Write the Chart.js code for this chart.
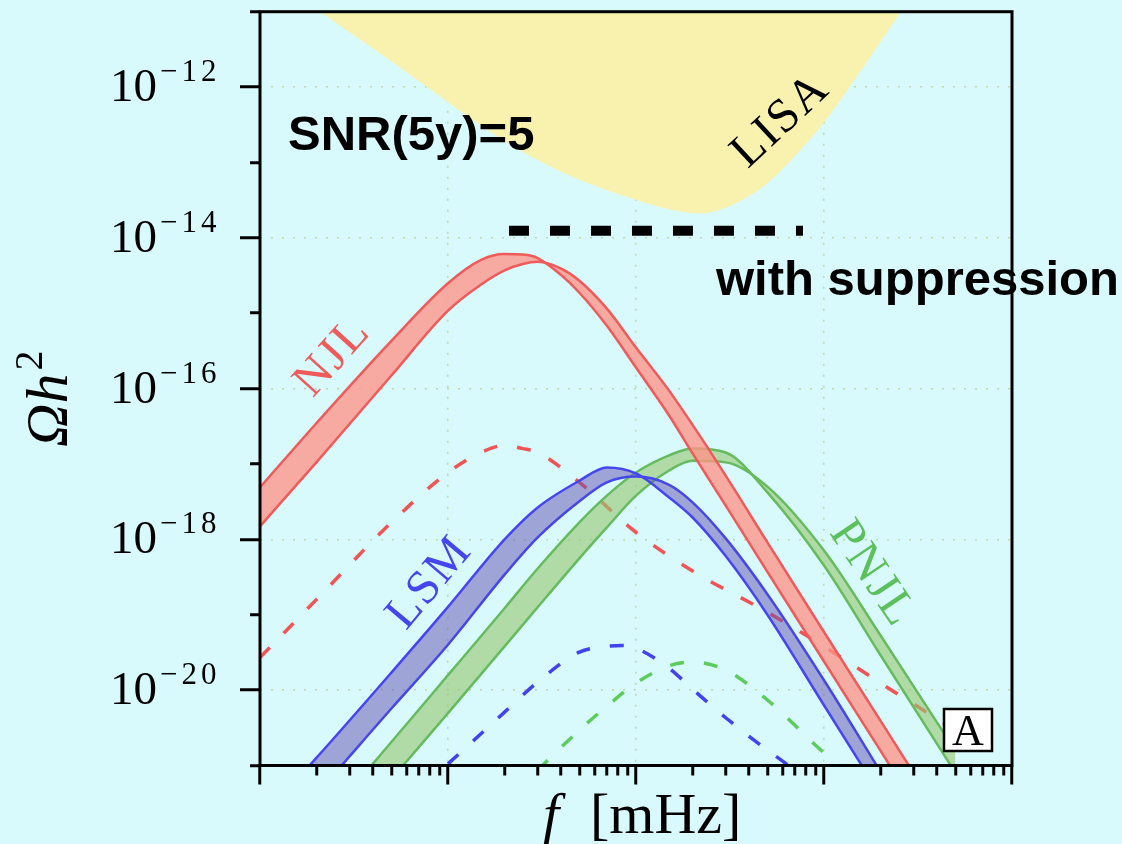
<!DOCTYPE html>
<html>
<head>
<meta charset="utf-8">
<script src="https://cdn.jsdelivr.net/npm/chart.js@4.4.1/dist/chart.umd.min.js"></script>
<style>
html,body{margin:0;padding:0;background:#d9fafd;}
canvas{display:block;}
</style>
</head>
<body>
<canvas id="c" width="1122" height="844"></canvas>
<script>
// ---------------- data (frequency in mHz, Omega h^2) ----------------
const lisaFreq = [0.018,0.02,0.03,0.05,0.1,0.2,0.3,0.5,1,1.5,2.2,3,3.6,5,8,10,12,18,26,32];
const lisaSens = [1.3e-11,1.08e-11,5.3e-12,2.2e-12,6.3e-13,1.93e-13,1.08e-13,5.9e-14,3.2e-14,2.4e-14,2.1e-14,2.5e-14,3.1e-14,5.3e-14,1.76e-13,3.4e-13,6.3e-13,2.7e-12,1.05e-11,2.2e-11];

const suppressionFreq = [0.211, 7.73];
const suppressionLevel = [1.24e-14, 1.24e-14];

const njlFreq  = [0.01,0.02,0.05,0.1,0.15,0.2,0.25,0.3,0.4,0.5,0.7,1,1.5,2,3,5,10,20,50];
const njlEdgeA = [4.9e-18,3.5e-17,4.3e-16,2.5e-15,5.1e-15,6.1e-15,6.0e-15,5.4e-15,3.2e-15,1.87e-15,6.8e-16,1.9e-16,4.4e-17,1.38e-17,2.8e-18,3.7e-19,2.4e-20,1.56e-21,4.2e-23];
const njlEdgeB = [1.49e-18,1.06e-17,1.49e-16,1.08e-15,2.4e-15,3.7e-15,4.5e-15,4.8e-15,3.9e-15,2.7e-15,1.15e-15,3.5e-16,9.4e-17,3.3e-17,7.0e-18,9.1e-19,5.9e-20,3.9e-21,1.06e-22];

const lsmFreq  = [0.015,0.02,0.05,0.1,0.2,0.3,0.5,0.7,1,1.5,2,3,5,10,20];
const lsmEdgeA = [5.8e-22,1.27e-21,1.71e-20,1.27e-19,1.0e-18,2.65e-18,6.0e-18,9.0e-18,7.5e-18,3.6e-18,1.95e-18,6.0e-19,1.0e-19,6.3e-21,4.0e-22];
const lsmEdgeB = [1.9e-22,4.2e-22,5.7e-21,4.0e-20,3.4e-19,1.06e-18,3.2e-18,5.7e-18,6.8e-18,5.3e-18,3.1e-18,1.03e-18,1.87e-19,1.35e-20,8.2e-22];

const pnjlFreq  = [0.03,0.05,0.1,0.2,0.3,0.5,0.7,1,1.5,2,3,5,10,20,50];
const pnjlEdgeA = [4.6e-22,2.05e-21,1.58e-20,1.22e-19,4.1e-19,1.68e-18,3.8e-18,7.7e-18,1.3e-17,1.6e-17,1.42e-17,4.2e-18,4.5e-19,2.9e-20,8.0e-22];
const pnjlEdgeB = [1.5e-22,6.6e-22,4.96e-21,3.8e-20,1.26e-19,5.6e-19,1.44e-18,3.8e-18,8.2e-18,1.1e-17,1.05e-17,5.0e-18,7.1e-19,5.3e-20,1.56e-21];

const njlSuppFreq = [0.01,0.02,0.05,0.1,0.15,0.2,0.25,0.3,0.5,1,2,5,10,20,50,83];
const njlSupp     = [2.7e-20,1.6e-19,1.68e-18,7.7e-18,1.42e-17,1.76e-17,1.6e-17,1.42e-17,5.7e-18,1.24e-18,3.8e-19,1.08e-19,3.8e-20,1.24e-20,2.9e-21,1.25e-21];

const lsmSuppFreq = [0.1,0.2,0.3,0.5,0.7,0.85,1,1.5,2,3,5,10];
const lsmSupp     = [1.05e-21,5.1e-21,1.28e-20,3.2e-20,3.8e-20,3.9e-20,3.6e-20,1.95e-20,1.03e-20,4.3e-21,1.6e-21,4.7e-22];

const pnjlSuppFreq = [0.3,0.5,0.7,1,1.5,2,3,5,10,20];
const pnjlSupp     = [8.7e-22,2.95e-21,6.1e-21,1.24e-20,2.1e-20,2.35e-20,1.84e-20,7.4e-21,1.47e-21,3.5e-22];

// axis ranges and ticks
const xRange = [0.01, 100];
const yRange = [1e-21, 1e-11];
const xMajorTicks = [0.01, 0.1, 1, 10, 100];
const xMinorMultipliers = [2,3,4,5,6,7,8,9];
const yMajorExponents = [-12, -14, -16, -18, -20];
const yMinorExponents = [-11, -13, -15, -17, -19, -21];

// ---------------- styles ----------------
const COL = {
  red: '#ef5a5a', redFill: 'rgba(255,148,135,0.78)',
  blue: '#4646ee', blueFill: 'rgba(100,80,175,0.5)',
  green: '#66bb5e', greenFill: 'rgba(150,200,115,0.62)',
  redDash: '#f05454', blueDash: '#4242ee', greenDash: '#5ccc5c',
  lisa: '#f9f2ae', grid: 'rgba(190,200,140,0.75)'
};

const xMinorTicks = [];
xMajorTicks.slice(0, -1).forEach(d => xMinorMultipliers.forEach(m => xMinorTicks.push(m * d)));
const yMajorTicks = yMajorExponents.map(e => Math.pow(10, e));
const yMinorTicks = yMinorExponents.map(e => Math.pow(10, e));

const pts = (xs, ys) => xs.map((x, i) => ({x: x, y: ys[i]}));

function lineDs(xs, ys, color, width, order, extra) {
  return Object.assign({
    data: pts(xs, ys), borderColor: color, borderWidth: width, pointRadius: 0,
    cubicInterpolationMode: 'monotone', capBezierPoints: false, fill: false, order: order
  }, extra || {});
}

const datasets = [
  lineDs(lisaFreq, lisaSens, 'rgba(0,0,0,0)', 0, 10, {fill: 'end', backgroundColor: COL.lisa}),
  lineDs(suppressionFreq, suppressionLevel, '#000', 10, 9, {cubicInterpolationMode: 'default', tension: 0, borderDash: [20, 21], borderCapStyle: 'butt'}),
  lineDs(njlSuppFreq, njlSupp, COL.redDash, 3.5, 8, {borderDash: [14, 20]}),
  lineDs(lsmSuppFreq, lsmSupp, COL.blueDash, 3.5, 8, {borderDash: [14, 20]}),
  lineDs(pnjlSuppFreq, pnjlSupp, COL.greenDash, 3.5, 8, {borderDash: [14, 20]}),
  lineDs(pnjlFreq, pnjlEdgeA, COL.green, 2.5, 6),
  lineDs(pnjlFreq, pnjlEdgeB, COL.green, 2.5, 7, {fill: '-1', backgroundColor: COL.greenFill}),
  lineDs(lsmFreq, lsmEdgeA, COL.blue, 2.5, 4),
  lineDs(lsmFreq, lsmEdgeB, COL.blue, 2.5, 5, {fill: '-1', backgroundColor: COL.blueFill}),
  lineDs(njlFreq, njlEdgeA, COL.red, 2.5, 2),
  lineDs(njlFreq, njlEdgeB, COL.red, 2.5, 3, {fill: '-1', backgroundColor: COL.redFill})
];

function logAxis(position, range, ticks, tickLength, gridOn) {
  const lo = range[0], hi = range[1];
  return {
    type: 'logarithmic', position: position, min: lo, max: hi,
    afterBuildTicks: s => { s.ticks = ticks.map(v => ({value: v})); },
    afterFit: s => { if (position === 'bottom') s.height = 0; else s.width = 0; },
    ticks: {display: false},
    border: {display: false, dash: [2, 9]},
    grid: {
      display: true, drawOnChartArea: gridOn, drawTicks: true, tickLength: tickLength,
      tickWidth: 3, tickColor: '#000', tickBorderDash: [], lineWidth: 1.5,
      color: c => (c.tick && c.tick.value > lo * 1.01 && c.tick.value < hi * 0.99) ? COL.grid : 'rgba(0,0,0,0)'
    }
  };
}

function rotText(ctx, text, cx, cy, deg, font, color, spacing) {
  ctx.save();
  ctx.translate(cx, cy);
  ctx.rotate(deg * Math.PI / 180);
  ctx.font = font; ctx.fillStyle = color;
  ctx.textAlign = 'center'; ctx.textBaseline = 'middle';
  ctx.letterSpacing = spacing || '0px';
  ctx.fillText(text, 0, 0);
  ctx.restore();
}

const overlay = {
  id: 'overlay',
  afterDraw(chart) {
    const ctx = chart.ctx, a = chart.chartArea, y = chart.scales.y;
    ctx.save();
    // frame
    ctx.lineWidth = 3; ctx.strokeStyle = '#000';
    ctx.strokeRect(a.left, a.top, a.right - a.left, a.bottom - a.top);

    // y tick labels 10^{-n}
    ctx.fillStyle = '#000';
    yMajorExponents.forEach(e => {
      const py = y.getPixelForValue(Math.pow(10, e));
      ctx.font = "47px 'Liberation Serif'"; ctx.textAlign = 'right'; ctx.textBaseline = 'alphabetic';
      ctx.letterSpacing = '0px';
      ctx.fillText('10', a.left - 103, py + 14);
      ctx.font = "31px 'Liberation Serif'"; ctx.textAlign = 'left';
      ctx.letterSpacing = '4px';
      ctx.fillText('\u2212' + Math.abs(e), a.left - 100, py - 6);
    });
    ctx.letterSpacing = '0px';

    // x axis title: f [mHz]
    ctx.textAlign = 'left'; ctx.textBaseline = 'alphabetic';
    ctx.font = "italic 58px 'Liberation Serif'";
    ctx.fillText('f', 543, 833);
    ctx.font = "58px 'Liberation Serif'";
    ctx.fillText('[mHz]', 590, 833);

    // y axis title: Omega h^2
    ctx.save();
    ctx.translate(67, 447);
    ctx.rotate(-Math.PI / 2);
    ctx.font = "italic 60px 'Liberation Serif'";
    ctx.fillText('\u03A9h', 0, 0);
    const w = ctx.measureText('\u03A9h').width;
    ctx.font = "40px 'Liberation Serif'";
    ctx.fillText('2', w + 3, -25);
    ctx.restore();

    // annotations
    ctx.font = "bold 49px 'Liberation Sans'";
    ctx.fillText('SNR(5y)=5', 288, 150);
    ctx.fillText('with suppression', 716, 295);

    rotText(ctx, 'LISA', 781, 121, -43, "48px 'Liberation Serif'", '#000', '2px');
    rotText(ctx, 'NJL', 333, 357, -48, "48px 'Liberation Serif'", COL.red, '2px');
    rotText(ctx, 'LSM', 430, 583, -50, "48px 'Liberation Serif'", COL.blue, '2px');
    rotText(ctx, 'PNJL', 872, 574, 56, "48px 'Liberation Serif'", '#5cc05c', '2px');

    // panel tag "A"
    ctx.fillStyle = '#fff'; ctx.strokeStyle = '#000'; ctx.lineWidth = 2.5;
    ctx.fillRect(944, 709, 48, 42); ctx.strokeRect(944, 709, 48, 42);
    ctx.fillStyle = '#000'; ctx.font = "44px 'Liberation Serif'";
    ctx.textAlign = 'center'; ctx.textBaseline = 'alphabetic';
    ctx.fillText('A', 968, 745);
    ctx.restore();
  }
};

new Chart(document.getElementById('c'), {
  type: 'line',
  data: {datasets: datasets},
  options: {
    responsive: false,
    animation: false,
    events: [],
    layout: {padding: {left: 260, right: 110, top: 11.7, bottom: 78.5}},
    plugins: {legend: {display: false}, tooltip: {enabled: false}, filler: {propagate: false}},
    scales: {
      x: logAxis('bottom', xRange, xMajorTicks, 19, true),
      x2: logAxis('bottom', xRange, xMinorTicks, 10, false),
      y: logAxis('left', yRange, yMajorTicks, 20, true),
      y2: logAxis('left', yRange, yMinorTicks, 10, false)
    }
  },
  plugins: [overlay]
});
</script>
</body>
</html>
